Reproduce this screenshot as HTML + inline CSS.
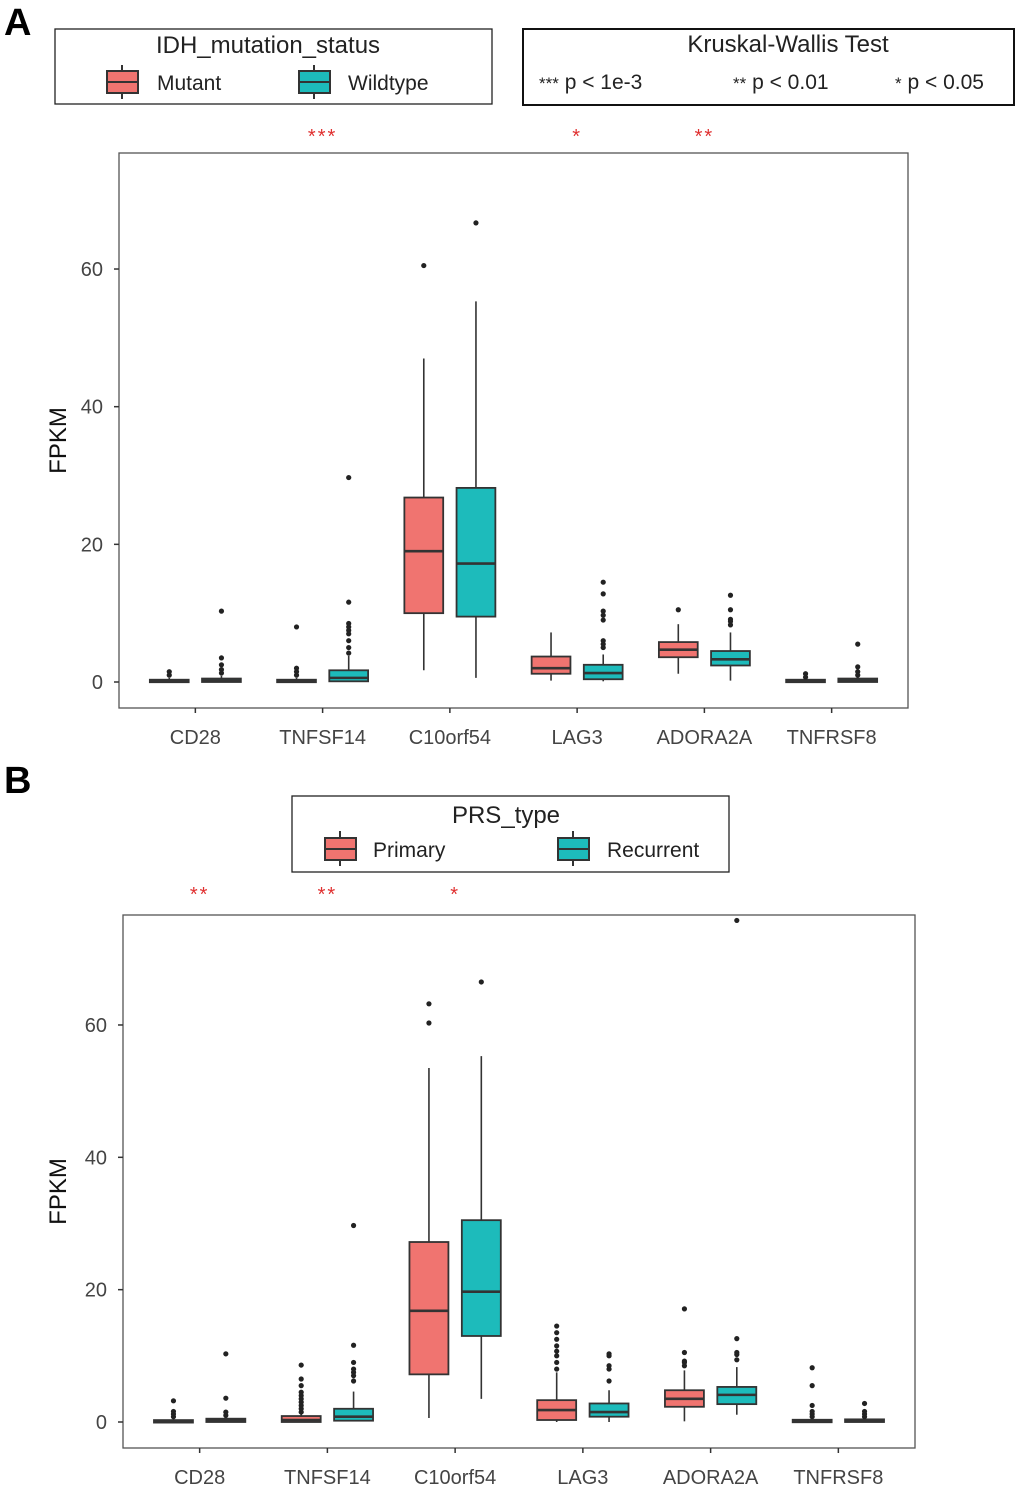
<!DOCTYPE html>
<html><head><meta charset="utf-8">
<style>
html,body{margin:0;padding:0;background:#fff;}
svg{display:block;font-family:"Liberation Sans",Arial,sans-serif;}
</style></head>
<body>
<svg id="fig" width="1020" height="1487" viewBox="0 0 1020 1487" xmlns="http://www.w3.org/2000/svg">
  <text x="4" y="35" font-size="38" font-weight="bold">A</text>
  <text x="4" y="793" font-size="38" font-weight="bold">B</text>

  <g>
    <rect x="55" y="29" width="437" height="75" fill="#fff" stroke="#222" stroke-width="1.3"/>
    <text x="268" y="53" font-size="24" text-anchor="middle" fill="#222">IDH_mutation_status</text>
    <g>
      <line x1="122" y1="65" x2="122" y2="99" stroke="#333" stroke-width="2"/>
      <rect x="107" y="71" width="31" height="22" fill="#F07470" stroke="#333" stroke-width="2"/>
      <line x1="107" y1="82" x2="138" y2="82" stroke="#333" stroke-width="2"/>
      <text x="157" y="90" font-size="21" fill="#222">Mutant</text>
    </g>
    <g>
      <line x1="314" y1="65" x2="314" y2="99" stroke="#333" stroke-width="2"/>
      <rect x="299" y="71" width="31" height="22" fill="#1DBBBB" stroke="#333" stroke-width="2"/>
      <line x1="299" y1="82" x2="330" y2="82" stroke="#333" stroke-width="2"/>
      <text x="348" y="90" font-size="21" fill="#222">Wildtype</text>
    </g>
  </g>

  <g>
    <rect x="523" y="29" width="491" height="76" fill="#fff" stroke="#111" stroke-width="2"/>
    <text x="788" y="52" font-size="24" text-anchor="middle" fill="#222">Kruskal-Wallis Test</text>
    <text x="539" y="89" font-size="21" fill="#222"><tspan font-size="17">***</tspan>  p &lt; 1e-3</text>
    <text x="733" y="89" font-size="21" fill="#222"><tspan font-size="17">**</tspan>  p &lt; 0.01</text>
    <text x="895" y="89" font-size="21" fill="#222"><tspan font-size="17">*</tspan>  p &lt; 0.05</text>
  </g>

  <g>
    <rect x="292" y="796" width="437" height="76" fill="#fff" stroke="#222" stroke-width="1.3"/>
    <text x="506" y="823" font-size="24" text-anchor="middle" fill="#222">PRS_type</text>
    <g>
      <line x1="340" y1="831" x2="340" y2="866" stroke="#333" stroke-width="2"/>
      <rect x="325" y="838" width="31" height="22" fill="#F07470" stroke="#333" stroke-width="2"/>
      <line x1="325" y1="849" x2="356" y2="849" stroke="#333" stroke-width="2"/>
      <text x="373" y="857" font-size="21" fill="#222">Primary</text>
    </g>
    <g>
      <line x1="573" y1="831" x2="573" y2="866" stroke="#333" stroke-width="2"/>
      <rect x="558" y="838" width="31" height="22" fill="#1DBBBB" stroke="#333" stroke-width="2"/>
      <line x1="558" y1="849" x2="589" y2="849" stroke="#333" stroke-width="2"/>
      <text x="607" y="857" font-size="21" fill="#222">Recurrent</text>
    </g>
  </g>

  <g id="panelA"></g>
  <g id="panelB"></g>
</svg>
<script>
const genes = ["CD28","TNFSF14","C10orf54","LAG3","ADORA2A","TNFRSF8"];
const yTicks = [0,20,40,60];
// Panel A: [low, q1, median, q3, high]
const mutantStats = [[0,0,0.1,0.3,0.6],[0,0,0.1,0.3,0.6],[1.7,10,19,26.8,47],[0.2,1.2,2,3.7,7.2],[1.2,3.6,4.7,5.8,8.4],[0,0,0.1,0.3,0.5]];
const mutantOut = [[1,1.5],[1,1.5,2,8],[60.5],[],[10.5],[0.7,1.2]];
const wildStats = [[0,0,0.2,0.5,0.9],[0,0.1,0.6,1.7,3.8],[0.6,9.5,17.2,28.2,55.3],[0.1,0.4,1.3,2.5,4],[0.2,2.4,3.3,4.5,7.2],[0,0,0.2,0.5,0.9]];
const wildOut = [[1.3,1.8,2.5,3.5,10.3],[4.2,5,6,7,7.5,8,8.5,11.6,29.7],[66.7],[5,5.5,6,9,9.7,10.3,12.8,14.5],[8.3,8.8,9.1,10.5,12.6],[1,1.5,2.2,5.5]];
const sigA = ["","***","","*","**",""];
// Panel B
const primaryStats = [[0,0,0.1,0.2,0.5],[0,0,0.3,0.9,1.4],[0.6,7.2,16.8,27.2,53.5],[0,0.3,1.8,3.3,7.5],[0.1,2.3,3.5,4.8,7.8],[0,0,0.1,0.3,0.6]];
const primaryOut = [[0.8,1.2,1.6,3.2],[1.5,2,2.5,3,3.5,4,4.5,5.5,6.5,8.6],[60.3,63.2],[8,9,10,10.7,11.5,12.5,13.5,14.5],[8.5,9,9.2,10.5,17.1],[0.8,1.2,1.6,2.5,5.5,8.2]];
const recurrentStats = [[0,0,0.2,0.5,0.9],[0.2,0.2,0.8,2,4.6],[3.5,13,19.7,30.5,55.3],[0,0.8,1.5,2.8,4.8],[1.1,2.7,4.1,5.3,8.3],[0,0,0.1,0.4,0.6]];
const recurrentOut = [[1,1.5,3.6,10.3],[6.2,7,7.5,8,9,11.6,29.7],[66.5],[6.2,8,8.5,10,10.3],[9.4,10.2,10.5,12.6,75.8],[0.8,1.2,1.6,2.8]];
const sigB = ["**","**","*","","",""];

const NS="http://www.w3.org/2000/svg";
function mk(tag,attrs,parent){const e=document.createElementNS(NS,tag);for(const k in attrs)e.setAttribute(k,attrs[k]);parent.appendChild(e);return e;}

function drawPanel(g, cfg){
  const {x0,x1,yTop,yBot,y0px,pxPerUnit,series,sig,sigY,prefix}=cfg;
  const yS=v=>y0px - v*pxPerUnit;
  const unit=(x1-x0)/6.2;
  const xS=i=>x0+unit*(i+0.6);
  const frame=mk('rect',{x:x0,y:yTop,width:x1-x0,height:yBot-yTop,fill:'#fff',stroke:'#555','stroke-width':1.3},g);
  
  
  yTicks.forEach(t=>{
    const y=yS(t);
    const tl=mk('line',{x1:x0-5,x2:x0,y1:y,y2:y,stroke:'#333','stroke-width':1.5},g);
    
    
    const tx=mk('text',{x:x0-16,y:y+7,'font-size':20,'text-anchor':'end',fill:'#444'},g);
    tx.textContent=t;
    
    
  });
  const yt=mk('text',{x:0,y:0,'font-size':24,'text-anchor':'middle',fill:'#111',transform:`translate(66,${(yTop+yBot)/2+10}) rotate(-90)`},g);
  yt.textContent='FPKM';
  
  
  genes.forEach((gn,i)=>{
    const cx=xS(i);
    const tl=mk('line',{x1:cx,x2:cx,y1:yBot,y2:yBot+5,stroke:'#333','stroke-width':1.5},g);
    
    
    const tx=mk('text',{x:cx,y:yBot+36,'font-size':20,'text-anchor':'middle',fill:'#444'},g);
    tx.textContent=gn;
    
    
    if(sig[i]){
      const st=mk('text',{x:cx,y:sigY,'font-size':20,'text-anchor':'middle',fill:'#E03030','letter-spacing':'2'},g);
      st.textContent=sig[i];
      
      
    }
    series.forEach((s,si)=>{
      const bx=cx+(si===0?-1:1)*unit*0.205;
      const w=unit*0.305;
      const [lo,q1,md,q3,hi]=s.stats[i];
      const bg=mk('g',{},g);
      
      
      mk('line',{x1:bx,x2:bx,y1:yS(lo),y2:yS(hi),stroke:'#333','stroke-width':1.6},bg);
      const h=Math.max(yS(q1)-yS(q3),2.5);
      mk('rect',{x:bx-w/2,y:yS(q3)-(h-(yS(q1)-yS(q3)))/2,width:w,height:h,fill:s.color,stroke:'#333','stroke-width':1.8},bg);
      mk('line',{x1:bx-w/2,x2:bx+w/2,y1:yS(md),y2:yS(md),stroke:'#333','stroke-width':2.6},bg);
      s.out[i].forEach(v=>{
        const c=mk('circle',{cx:bx,cy:yS(v),r:2.6,fill:'#222'},bg);
        
        
      });
    });
  });
}

drawPanel(document.getElementById('panelA'),{x0:119,x1:908,yTop:153,yBot:708,y0px:682,pxPerUnit:6.883,sigY:143,sig:sigA,prefix:'panel-a',
  series:[{name:'mutant',color:'#F07470',stats:mutantStats,out:mutantOut},{name:'wildtype',color:'#1DBBBB',stats:wildStats,out:wildOut}]});
drawPanel(document.getElementById('panelB'),{x0:123,x1:915,yTop:915,yBot:1448,y0px:1422,pxPerUnit:6.617,sigY:901,sig:sigB,prefix:'panel-b',
  series:[{name:'primary',color:'#F07470',stats:primaryStats,out:primaryOut},{name:'recurrent',color:'#1DBBBB',stats:recurrentStats,out:recurrentOut}]});
</script>
</body></html>
